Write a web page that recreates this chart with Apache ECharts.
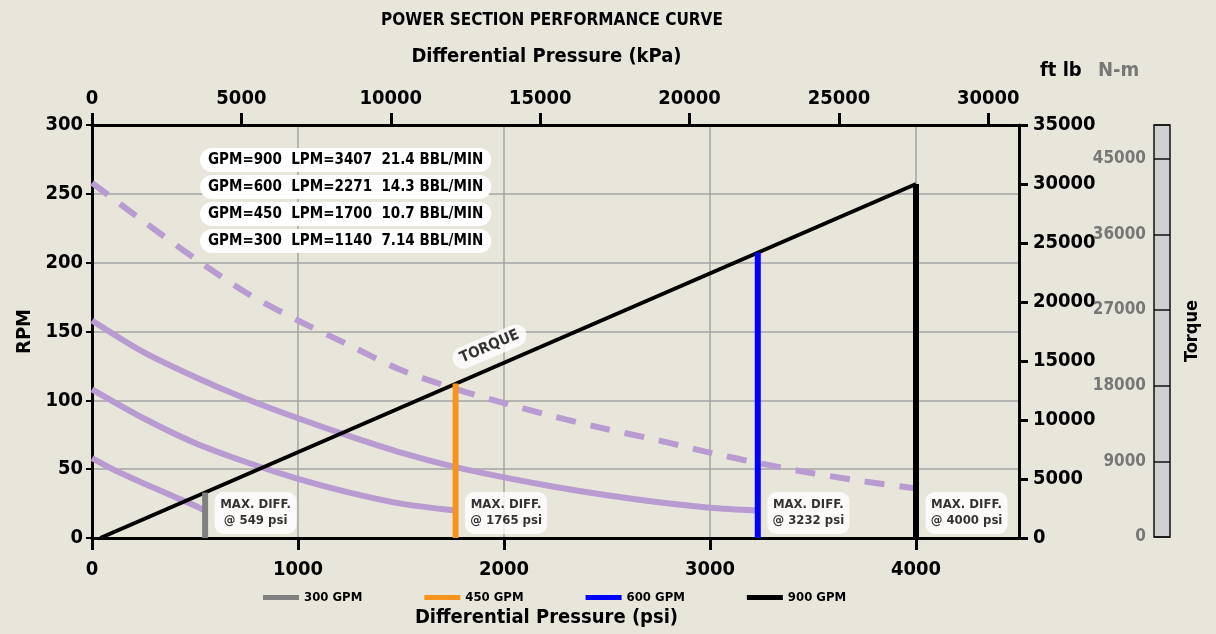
<!DOCTYPE html>
<html>
<head>
<meta charset="utf-8">
<script src="https://cdn.jsdelivr.net/npm/echarts@6/dist/echarts.min.js"></script>
<style>
html,body{margin:0;padding:0;background:#e8e5db;}
#c{width:1216px;height:634px;}
</style>
</head>
<body>
<div id="c"></div>
<script>
// ---- data ----
const rpmTicks = [0, 50, 100, 150, 200, 250, 300];
const psiMax = 4500;
const curve300Psi = [0, 100, 200, 300, 400, 500, 549];
const curve300Rpm = [58, 50, 43, 36.5, 30, 23.5, 20];
const curve450Psi = [0, 250, 500, 750, 1000, 1250, 1500, 1765];
const curve450Rpm = [108, 87, 69, 55, 43, 33, 25, 20];
const curve600Psi = [0, 250, 500, 750, 1000, 1250, 1500, 1750, 2000, 2250, 2500, 2750, 3000, 3232];
const curve600Rpm = [158, 135, 117, 101, 87, 74, 62, 52, 44, 37, 31, 26, 22, 20];
const curve900Psi = [0, 250, 500, 750, 1000, 1250, 1500, 1750, 2000, 2250, 2500, 2750, 3000, 3250, 3500, 3750, 4000];
const curve900Rpm = [258, 230, 203, 178, 158, 140, 122, 109, 98, 88, 79, 71, 62, 54, 47, 41, 36];
const torquePsi = [40, 4000];
const torqueFtLb = [0, 30000];
const gpmNames = ['300 GPM', '450 GPM', '600 GPM', '900 GPM'];
const gpmColors = ['#808080', '#f7941d', '#0000ff', '#000000'];
const maxDiffPsi = [549, 1765, 3232, 4000];
const maxDiffTorque = [3850, 13100, 24200, 30000];
const flowGpm = [900, 600, 450, 300];
const flowLpm = [3407, 2271, 1700, 1140];
const flowBbl = ['21.4', '14.3', '10.7', '7.14'];
const torqueLabelAt = [1930, 139];

const FONT = "'DejaVu Sans Condensed','DejaVu Sans',sans-serif";
const purple = '#b89bd0';
const gridGray = '#a3a3a3';
const plain = v => String(v);

function pairs(xs, ys) { return xs.map((x, i) => [x, ys[i]]); }

const chart = echarts.init(document.getElementById('c'));

const bold = (size, color) => ({ fontFamily: FONT, fontWeight: 'bold', fontSize: size, color: color || '#000' });

const series = [];
const curveSets = [
  [curve300Psi, curve300Rpm, 'solid'],
  [curve450Psi, curve450Rpm, 'solid'],
  [curve600Psi, curve600Rpm, 'solid'],
  [curve900Psi, curve900Rpm, [20, 15]]
];
curveSets.forEach((c, i) => {
  series.push({
    name: 'rpm' + i, type: 'line', xAxisIndex: 0, yAxisIndex: 0, smooth: 0.3,
    symbol: 'none', silent: true, z: 2,
    lineStyle: { color: purple, width: 6, type: c[2], cap: 'butt' },
    data: pairs(c[0], c[1])
  });
});
series.push({
  name: 'Torque', type: 'line', xAxisIndex: 0, yAxisIndex: 1, symbol: 'none', z: 3,
  lineStyle: { color: '#000', width: 4 },
  data: pairs(torquePsi, torqueFtLb)
});
gpmNames.forEach((n, i) => {
  series.push({
    name: n, type: 'line', xAxisIndex: 0, yAxisIndex: 1, symbol: 'none', z: 4,
    itemStyle: { color: gpmColors[i] },
    lineStyle: { color: gpmColors[i], width: 6 },
    data: [[maxDiffPsi[i], 0], [maxDiffPsi[i], maxDiffTorque[i]]]
  });
});
series.push({
  name: 'notes', type: 'scatter', xAxisIndex: 0, yAxisIndex: 0, symbolSize: 1, z: 6,
  itemStyle: { color: 'rgba(0,0,0,0)' }, silent: true,
  data: maxDiffPsi.map(p => [p, 0]),
  label: {
    show: true, position: 'right', distance: 9, offset: [0, -25],
    backgroundColor: '#fff', borderRadius: 9, padding: [5, 6, 5, 6],
    formatter: p => '{a|MAX. DIFF.}\n{a|@ ' + p.value[0] + ' psi}',
    rich: { a: { fontFamily: FONT, fontWeight: 'bold', fontSize: 13, lineHeight: 16, width: 70, align: 'center', color: '#000' } }
  }
});
series.push({
  name: 'torqueLabel', type: 'scatter', xAxisIndex: 0, yAxisIndex: 0, symbolSize: 1, z: 6,
  itemStyle: { color: 'rgba(0,0,0,0)' }, silent: true,
  data: [torqueLabelAt],
  label: {
    show: true, position: 'inside', rotate: 23, formatter: 'TORQUE',
    backgroundColor: '#fff', borderRadius: 11, padding: [4, 8, 3, 8],
    fontFamily: FONT, fontWeight: 'bold', fontSize: 15, color: '#000'
  }
});

const flowTexts = flowGpm.map((g, i) => ({
  type: 'text', left: 200, top: 148 + i * 27, z: 10,
  style: {
    text: 'GPM=' + g + '  LPM=' + flowLpm[i] + '  ' + flowBbl[i] + ' BBL/MIN',
    fontFamily: FONT, fontWeight: 'bold', fontSize: 15, fill: '#000',
    backgroundColor: '#fff', borderRadius: 12, padding: [5, 8, 4, 8]
  }
}));

const option = {
  backgroundColor: '#e8e5db',
  animation: false,
  title: {
    text: 'POWER SECTION PERFORMANCE CURVE', left: 547, top: 7, textAlign: 'center',
    textStyle: bold(17)
  },
  legend: {
    data: gpmNames, left: 258, top: 586, icon: 'rect', itemWidth: 36, itemHeight: 5, itemGap: 62,
    textStyle: bold(13), selectedMode: false
  },
  grid: [
    { left: 92, right: 197, top: 125, bottom: 96 },
    { left: 1154, width: 16, top: 125, bottom: 97, show: true, backgroundColor: '#d0d0d0', borderColor: '#111', borderWidth: 1.5 }
  ],
  xAxis: [
    {
      type: 'value', gridIndex: 0, position: 'bottom', min: 0, max: psiMax, interval: 1000,
      name: 'Differential Pressure (psi)', nameLocation: 'middle', nameGap: 70,
      nameTextStyle: Object.assign(bold(20), { padding: [0, 18, 0, 0] }),
      axisLine: { onZero: false, lineStyle: { color: '#000', width: 3 } },
      axisTick: { length: 12, lineStyle: { color: '#000', width: 3 } },
      axisLabel: Object.assign(bold(20), { margin: 22, showMaxLabel: false, formatter: plain }),
      splitLine: { show: true, lineStyle: { color: gridGray, width: 1.5 } }
    },
    {
      type: 'value', gridIndex: 0, position: 'top', min: 0, max: psiMax * 6.894757, interval: 5000,
      name: 'Differential Pressure (kPa)', nameLocation: 'middle', nameGap: 58,
      nameTextStyle: Object.assign(bold(20), { padding: [0, 18, 0, 0] }),
      axisLine: { onZero: false, lineStyle: { color: '#000', width: 3 } },
      axisTick: { length: 12, lineStyle: { color: '#000', width: 3 } },
      axisLabel: Object.assign(bold(20), { margin: 16, showMaxLabel: false, formatter: plain }),
      splitLine: { show: false }
    },
    { type: 'value', gridIndex: 1, min: 0, max: 1, show: false }
  ],
  yAxis: [
    {
      type: 'value', gridIndex: 0, position: 'left', min: rpmTicks[0], max: rpmTicks[rpmTicks.length - 1], interval: 50,
      name: 'RPM', nameLocation: 'middle', nameGap: 54, nameRotate: 90,
      nameTextStyle: bold(20),
      axisLine: { onZero: false, lineStyle: { color: '#000', width: 3 } },
      axisTick: { length: 6, lineStyle: { color: '#000', width: 2 } },
      axisLabel: Object.assign(bold(20), { margin: 9, formatter: plain }),
      splitLine: { show: true, lineStyle: { color: gridGray, width: 1.5 } }
    },
    {
      type: 'value', gridIndex: 0, position: 'right', min: 0, max: 35000, interval: 5000,
      axisLine: { show: true, onZero: false, lineStyle: { color: '#000', width: 3 } },
      axisTick: { show: true, length: 9, lineStyle: { color: '#000', width: 3 } },
      axisLabel: Object.assign(bold(20), { margin: 14, formatter: plain }),
      splitLine: { show: false }
    },
    {
      type: 'value', gridIndex: 1, position: 'left', min: 0, max: 49000, interval: 9000,
      axisLine: { show: false, onZero: false }, axisTick: { show: false },
      axisLabel: Object.assign(bold(17, '#777'), { margin: 8, showMaxLabel: false, formatter: plain }),
      splitLine: { show: true, lineStyle: { color: '#111', width: 1.5 } }
    },
    {
      type: 'value', gridIndex: 1, position: 'right', min: 0, max: 1,
      name: 'Torque', nameLocation: 'middle', nameGap: 13, nameRotate: 90,
      nameTextStyle: bold(18),
      axisLine: { show: false, onZero: false }, axisTick: { show: false }, axisLabel: { show: false }, splitLine: { show: false }
    }
  ],
  graphic: flowTexts.concat([
    { type: 'text', left: 1040, top: 61, style: { text: 'ft lb', fontFamily: FONT, fontWeight: 'bold', fontSize: 20, fill: '#000' } },
    { type: 'text', left: 1098, top: 61, style: { text: 'N-m', fontFamily: FONT, fontWeight: 'bold', fontSize: 20, fill: '#777' } }
  ]),
  series: series
};
chart.setOption(option);
</script>
</body>
</html>
